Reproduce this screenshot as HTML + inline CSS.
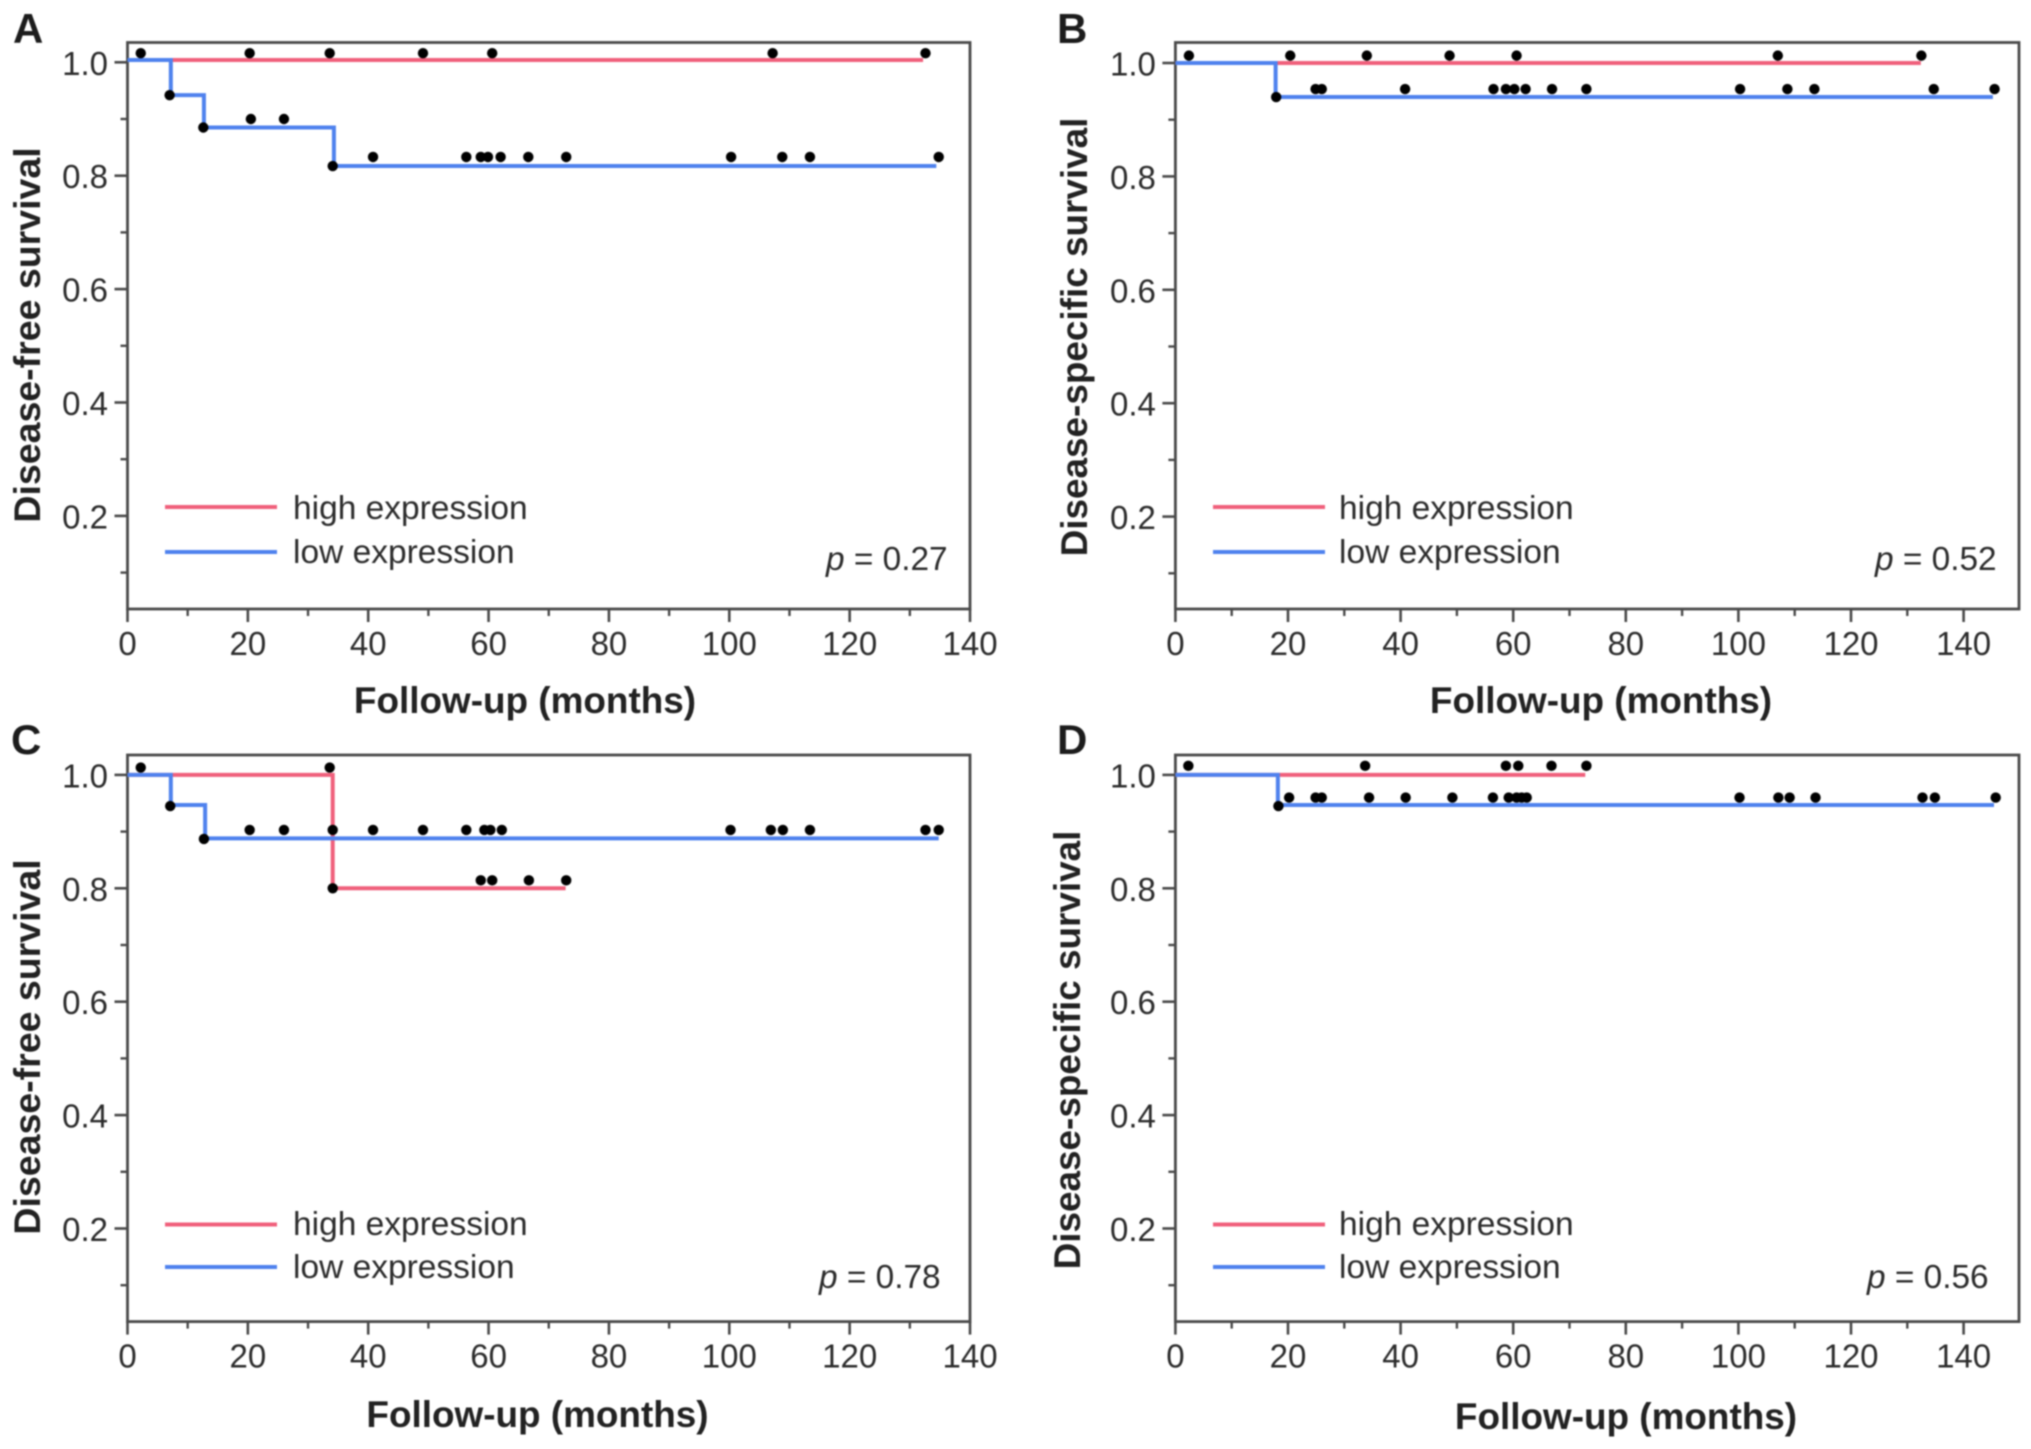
<!DOCTYPE html>
<html>
<head>
<meta charset="utf-8">
<title>Survival curves by expression level</title>
<style>
html,body{margin:0;padding:0;background:#fff;width:2031px;height:1449px;overflow:hidden}
svg{display:block;filter:blur(0.8px)}
text{font-family:"Liberation Sans",Arial,sans-serif}
.tick{font-size:33px;fill:#2c2c2c}
.legend{font-size:33.5px;fill:#2c2c2c}
.pval{font-size:33.4px;fill:#2c2c2c}
.title{font-size:36.9px;font-weight:bold;fill:#222}
.ytitle-short{font-size:37.5px}
.letter{font-size:42px;font-weight:bold;fill:#1c1c1c}
</style>
</head>
<body>
<svg id="figure" width="2031" height="1449" viewBox="0 0 2031 1449" xmlns="http://www.w3.org/2000/svg">
  <rect width="2031" height="1449" fill="#fff"/>

  <g>
    <text class="letter" x="13" y="43">A</text>
    <text class="title" x="525" y="713" text-anchor="middle">Follow-up (months)</text>
    <text class="title ytitle-short" transform="translate(40,335) rotate(-90)" text-anchor="middle">Disease-free survival</text>
    <line x1="165" x2="277" y1="507" y2="507" stroke="#f0607c" stroke-width="4"/>
    <line x1="165" x2="277" y1="552" y2="552" stroke="#4f82ee" stroke-width="4"/>
    <text class="legend" x="293" y="519">high expression</text>
    <text class="legend" x="293" y="563">low expression</text>
    <text class="pval" x="826" y="570"><tspan font-style="italic">p</tspan> = 0.27</text>
  </g>

  <g>
    <text class="letter" x="1057" y="43">B</text>
    <text class="title" x="1601" y="713" text-anchor="middle">Follow-up (months)</text>
    <text class="title" transform="translate(1087,337) rotate(-90)" text-anchor="middle">Disease-specific survival</text>
    <line x1="1213" x2="1325" y1="507" y2="507" stroke="#f0607c" stroke-width="4"/>
    <line x1="1213" x2="1325" y1="552" y2="552" stroke="#4f82ee" stroke-width="4"/>
    <text class="legend" x="1339" y="519">high expression</text>
    <text class="legend" x="1339" y="563">low expression</text>
    <text class="pval" x="1875" y="570"><tspan font-style="italic">p</tspan> = 0.52</text>
  </g>

  <g>
    <text class="letter" x="11" y="754">C</text>
    <text class="title" x="537.5" y="1427" text-anchor="middle">Follow-up (months)</text>
    <text class="title ytitle-short" transform="translate(40,1047) rotate(-90)" text-anchor="middle">Disease-free survival</text>
    <line x1="165" x2="277" y1="1224.5" y2="1224.5" stroke="#f0607c" stroke-width="4"/>
    <line x1="165" x2="277" y1="1267" y2="1267" stroke="#4f82ee" stroke-width="4"/>
    <text class="legend" x="293" y="1235">high expression</text>
    <text class="legend" x="293" y="1278">low expression</text>
    <text class="pval" x="819" y="1288"><tspan font-style="italic">p</tspan> = 0.78</text>
  </g>

  <g>
    <text class="letter" x="1057" y="754">D</text>
    <text class="title" x="1626" y="1429" text-anchor="middle">Follow-up (months)</text>
    <text class="title" transform="translate(1080,1050) rotate(-90)" text-anchor="middle">Disease-specific survival</text>
    <line x1="1213" x2="1325" y1="1224.5" y2="1224.5" stroke="#f0607c" stroke-width="4"/>
    <line x1="1213" x2="1325" y1="1267" y2="1267" stroke="#4f82ee" stroke-width="4"/>
    <text class="legend" x="1339" y="1235">high expression</text>
    <text class="legend" x="1339" y="1278">low expression</text>
    <text class="pval" x="1867" y="1288"><tspan font-style="italic">p</tspan> = 0.56</text>
  </g>
</svg>

<script>
// Axis tick values
const xMajorTicks = [0, 20, 40, 60, 80, 100, 120, 140];
const xMinorTicks = [10, 30, 50, 70, 90, 110, 130];
const yMajorTicks = [1.0, 0.8, 0.6, 0.4, 0.2];
const yMinorTicks = [0.9, 0.7, 0.5, 0.3, 0.1];

// Panel A: disease-free survival
const aHighMonths = [0, 132.2];
const aHighSurvival = [1.004];
const aLowMonths = [0, 7.2, 12.7, 34.3, 134.4];
const aLowSurvival = [1.004, 0.942, 0.885, 0.817];
const aDotMonths = [2.2, 20.3, 33.6, 49.1, 60.6, 107.2, 132.6, 7.0, 12.6, 20.5, 26.0, 34.1, 40.8, 56.3, 58.7, 59.9, 62.0, 66.6, 72.9, 100.3, 108.8, 113.4, 134.8];
const aDotSurvival = [1.016, 1.016, 1.016, 1.016, 1.016, 1.016, 1.016, 0.942, 0.885, 0.9, 0.9, 0.817, 0.833, 0.833, 0.833, 0.833, 0.833, 0.833, 0.833, 0.833, 0.833, 0.833, 0.833];

// Panel B: disease-specific survival
const bHighMonths = [0, 132.4];
const bHighSurvival = [1.0];
const bLowMonths = [0, 17.8, 145.2];
const bLowSurvival = [1.0, 0.94];
const bDotMonths = [2.4, 20.4, 34.0, 48.7, 60.6, 107.0, 132.5, 17.9, 24.9, 26.0, 40.8, 56.5, 58.7, 60.2, 62.2, 66.9, 73.0, 100.3, 108.7, 113.5, 134.7, 145.5];
const bDotSurvival = [1.013, 1.013, 1.013, 1.013, 1.013, 1.013, 1.013, 0.94, 0.954, 0.954, 0.954, 0.954, 0.954, 0.954, 0.954, 0.954, 0.954, 0.954, 0.954, 0.954, 0.954, 0.954];

// Panel C: disease-free survival
const cHighMonths = [0, 34.1, 72.8];
const cHighSurvival = [1.0, 0.8];
const cLowMonths = [0, 7.2, 12.9, 134.8];
const cLowSurvival = [1.0, 0.947, 0.888];
const cDotMonths = [2.2, 33.6, 7.1, 12.7, 20.3, 26.0, 34.1, 40.8, 49.1, 56.3, 59.3, 60.3, 62.2, 100.2, 106.9, 108.9, 113.4, 132.6, 134.8, 34.1, 58.7, 60.6, 66.7, 72.9];
const cDotSurvival = [1.013, 1.013, 0.945, 0.887, 0.903, 0.903, 0.903, 0.903, 0.903, 0.903, 0.903, 0.903, 0.903, 0.903, 0.903, 0.903, 0.903, 0.903, 0.903, 0.8, 0.814, 0.814, 0.814, 0.814];

// Panel D: disease-specific survival
const dHighMonths = [0, 72.8];
const dHighSurvival = [1.0];
const dLowMonths = [0, 18.2, 145.4];
const dLowSurvival = [1.0, 0.947];
const dDotMonths = [2.3, 33.7, 58.7, 60.9, 66.8, 73.0, 18.3, 20.2, 24.9, 26.0, 34.4, 40.9, 49.2, 56.4, 59.2, 60.6, 61.5, 62.4, 100.2, 107.1, 109.1, 113.7, 132.7, 134.9, 145.7];
const dDotSurvival = [1.016, 1.016, 1.016, 1.016, 1.016, 1.016, 0.945, 0.96, 0.96, 0.96, 0.96, 0.96, 0.96, 0.96, 0.96, 0.96, 0.96, 0.96, 0.96, 0.96, 0.96, 0.96, 0.96, 0.96, 0.96];

const NS = 'http://www.w3.org/2000/svg';
const figure = document.getElementById('figure');

function make(tag, parent, attrs) {
  const el = document.createElementNS(NS, tag);
  for (const k in attrs) el.setAttribute(k, attrs[k]);
  parent.appendChild(el);
  return el;
}

function stepPath(months, survival, xFn, yFn) {
  let d = 'M' + xFn(months[0]) + ' ' + yFn(survival[0]);
  for (let i = 1; i < months.length; i++) {
    d += ' H' + xFn(months[i]);
    if (i < survival.length) d += ' V' + yFn(survival[i]);
  }
  return d;
}

function drawPanel(id, frame, high, low, dots) {
  const xFn = m => frame.left + m * frame.pxPerMonth;
  const yFn = v => frame.yOne + (1 - v) * frame.pxPerUnit;
  const g = make('g', figure, {});
  
  

  const border = make('rect', g, {x: frame.left, y: frame.top, width: frame.right - frame.left, height: frame.bottom - frame.top, fill: 'none', stroke: '#4a4a4a', 'stroke-width': 2.8});
  
  

  xMajorTicks.forEach(t => {
    const mark = make('line', g, {x1: xFn(t), x2: xFn(t), y1: frame.bottom, y2: frame.bottom + 13, stroke: '#4a4a4a', 'stroke-width': 2.6});
    
    
    const label = make('text', g, {x: xFn(t), y: frame.bottom + 46, class: 'tick', 'text-anchor': 'middle'});
    label.textContent = String(t);
    
    
  });
  xMinorTicks.forEach(t => {
    const mark = make('line', g, {x1: xFn(t), x2: xFn(t), y1: frame.bottom, y2: frame.bottom + 7, stroke: '#4a4a4a', 'stroke-width': 2.4});
    
    
  });
  yMajorTicks.forEach(t => {
    const mark = make('line', g, {x1: frame.left - 13, x2: frame.left, y1: yFn(t), y2: yFn(t), stroke: '#4a4a4a', 'stroke-width': 2.6});
    
    
    const label = make('text', g, {x: frame.left - 19.5, y: yFn(t) + 12.5, class: 'tick', 'text-anchor': 'end'});
    label.textContent = t.toFixed(1);
    
    
  });
  yMinorTicks.forEach(t => {
    const mark = make('line', g, {x1: frame.left - 7, x2: frame.left, y1: yFn(t), y2: yFn(t), stroke: '#4a4a4a', 'stroke-width': 2.4});
    
    
  });

  const highLine = make('path', g, {d: stepPath(high.months, high.survival, xFn, yFn), fill: 'none', stroke: '#f0607c', 'stroke-width': 4});
  
  

  const lowLine = make('path', g, {d: stepPath(low.months, low.survival, xFn, yFn), fill: 'none', stroke: '#4f82ee', 'stroke-width': 4});
  
  

  dots.months.forEach((m, i) => {
    const dot = make('circle', g, {cx: xFn(m), cy: yFn(dots.survival[i]), r: 5.2, fill: '#000'});
    
    
  });
}

drawPanel('a',
  {left: 127.5, right: 970, top: 42.5, bottom: 609, pxPerMonth: 6.018, yOne: 62.3, pxPerUnit: 567},
  {months: aHighMonths, survival: aHighSurvival},
  {months: aLowMonths, survival: aLowSurvival},
  {months: aDotMonths, survival: aDotSurvival});
drawPanel('b',
  {left: 1175.4, right: 2019, top: 42.5, bottom: 609, pxPerMonth: 5.63, yOne: 63, pxPerUnit: 567},
  {months: bHighMonths, survival: bHighSurvival},
  {months: bLowMonths, survival: bLowSurvival},
  {months: bDotMonths, survival: bDotSurvival});
drawPanel('c',
  {left: 127.5, right: 970, top: 755, bottom: 1321.6, pxPerMonth: 6.018, yOne: 774.9, pxPerUnit: 567},
  {months: cHighMonths, survival: cHighSurvival},
  {months: cLowMonths, survival: cLowSurvival},
  {months: cDotMonths, survival: cDotSurvival});
drawPanel('d',
  {left: 1175.4, right: 2019, top: 755, bottom: 1321.6, pxPerMonth: 5.63, yOne: 774.9, pxPerUnit: 567},
  {months: dHighMonths, survival: dHighSurvival},
  {months: dLowMonths, survival: dLowSurvival},
  {months: dDotMonths, survival: dDotSurvival});
</script>
</body>
</html>
